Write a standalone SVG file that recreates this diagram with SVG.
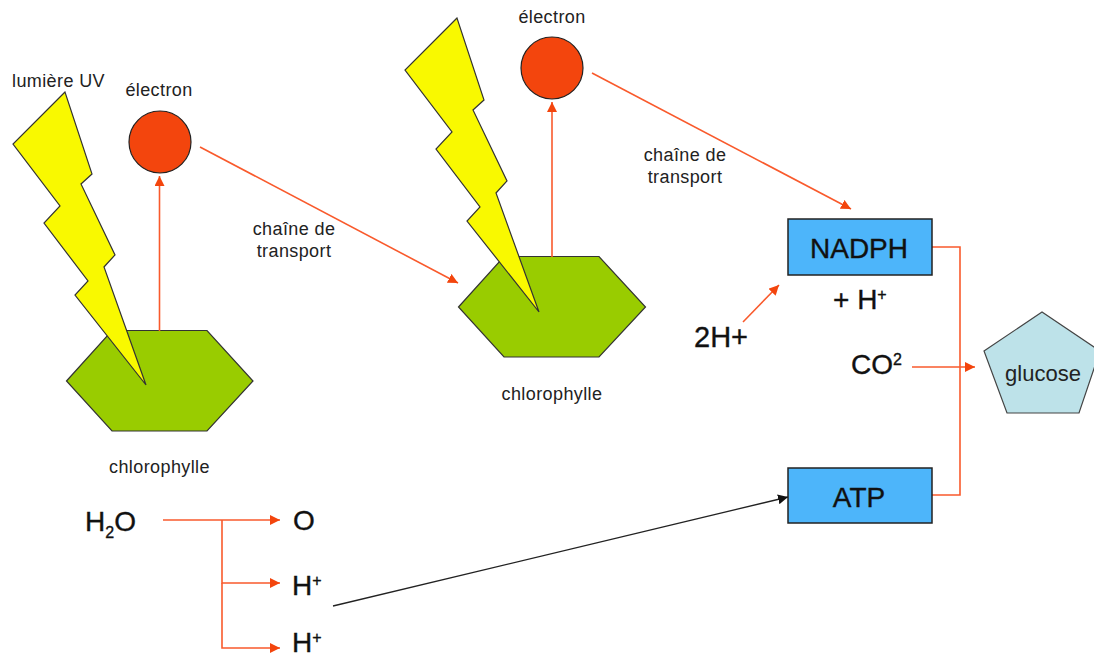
<svg xmlns="http://www.w3.org/2000/svg" width="1094" height="659" viewBox="0 0 1094 659">
<style>
text{font-family:"Liberation Sans",Arial,sans-serif;fill:#111}
.s{font-size:18px;letter-spacing:.4px;fill:#222}
.m{font-size:28px;stroke:#111;stroke-width:.35}
.up{font-size:16px}
.hex{fill:#9c0;stroke:#333;stroke-width:1.2}
.bolt{fill:#f9f900;stroke:#333;stroke-width:1.2;stroke-linejoin:miter}
.el{fill:#f3450d;stroke:#222;stroke-width:1.2}
.box{fill:#4db5fa;stroke:#222;stroke-width:1.5}
.o{fill:none;stroke:#f95a2c;stroke-width:1.6}
.k{fill:none;stroke:#222;stroke-width:1.3}
</style>
<defs>
<marker id="ao" markerUnits="userSpaceOnUse" markerWidth="11" markerHeight="10" refX="10" refY="5" orient="auto"><path d="M0 0L10 5L0 10Z" fill="#f3450d"/></marker>
<marker id="ak" markerUnits="userSpaceOnUse" markerWidth="11" markerHeight="10" refX="10" refY="5" orient="auto"><path d="M0 0L10 5L0 10Z" fill="#111"/></marker>
</defs>
<g id="chlorophylle1"><polygon class="hex" points="66.500,381 112,330.500 207,330.500 253,381 207,431 112,431"/><text class="s" x="159.500" y="473" text-anchor="middle">chlorophylle</text></g>
<g id="chlorophylle2"><polygon class="hex" points="458.500,307 504,256.500 599,256.500 645.500,307 599,357 504,357"/><text class="s" x="552" y="400" text-anchor="middle">chlorophylle</text></g>
<g id="connectors">
<path class="o" marker-end="url(#ao)" d="M159.500 331V176"/>
<path class="o" marker-end="url(#ao)" d="M200 147L458 283"/>
<path class="o" marker-end="url(#ao)" d="M552 257V102"/>
<path class="o" marker-end="url(#ao)" d="M592 73L851 209"/>
<path class="o" marker-end="url(#ao)" d="M743 322L779 285"/>
<path class="o" d="M932 247H960V495H932"/>
<path class="o" marker-end="url(#ao)" d="M912 367H975"/>
<path class="o" marker-end="url(#ao)" d="M163 520H280"/>
<path class="o" marker-end="url(#ao)" d="M222 520V583H280"/>
<path class="o" marker-end="url(#ao)" d="M222 583V648H280"/>
<path class="k" marker-end="url(#ak)" d="M333 606L788 497"/>
</g>
<g id="bolt1"><polygon class="bolt" points="65,92 13,144 60,206 44,223 88,281 75,295 146,385 104,267 115,255 81,184 92,174"/><text class="s" x="12" y="87">lumière UV</text></g>
<g id="bolt2"><polygon class="bolt" points="457,18 405,70 452,132 436,149 480,207 467,221 539,312 496,193 507,181 473,110 484,100"/></g>
<g id="electron1"><circle class="el" cx="160" cy="142" r="31"/><text class="s" x="159" y="96" text-anchor="middle">électron</text></g>
<g id="electron2"><circle class="el" cx="552" cy="68" r="31"/><text class="s" x="552" y="23" text-anchor="middle">électron</text></g>
<g id="label1"><text class="s" x="294" y="235" text-anchor="middle">chaîne de</text><text class="s" x="294" y="257" text-anchor="middle">transport</text></g>
<g id="label2"><text class="s" x="685" y="161" text-anchor="middle">chaîne de</text><text class="s" x="685" y="183" text-anchor="middle">transport</text></g>
<g id="nadph"><rect class="box" x="788" y="219" width="144" height="56"/><text class="m" x="859" y="258" text-anchor="middle">NADPH</text></g>
<g id="atp"><rect class="box" x="788" y="468" width="144" height="55"/><text class="m" x="859" y="507" text-anchor="middle">ATP</text></g>
<g id="glucose"><polygon points="1042,312 984,351 1007,413 1079,413 1100,351" fill="#bde2e9" stroke="#444" stroke-width="1.2"/><text x="1043" y="381" text-anchor="middle" style="font-size:22px;fill:#222">glucose</text></g>
<g id="plusH"><text class="m" x="833" y="309">+ H<tspan class="up" dy="-9">+</tspan></text></g>
<g id="twoH"><text class="m" x="694" y="347" style="font-size:29px">2H+</text></g>
<g id="co2"><text class="m" x="851" y="374">CO<tspan class="up" font-size="17" dy="-9">2</tspan></text></g>
<g id="h2o"><text class="m" x="85" y="531">H<tspan class="up" dy="7">2</tspan><tspan dy="-7">O</tspan></text></g>
<g id="o"><text class="m" x="293" y="530">O</text></g>
<g id="h1"><text class="m" x="292" y="595">H<tspan class="up" dy="-9">+</tspan></text></g>
<g id="h2"><text class="m" x="292" y="652">H<tspan class="up" dy="-9">+</tspan></text></g>
</svg>
